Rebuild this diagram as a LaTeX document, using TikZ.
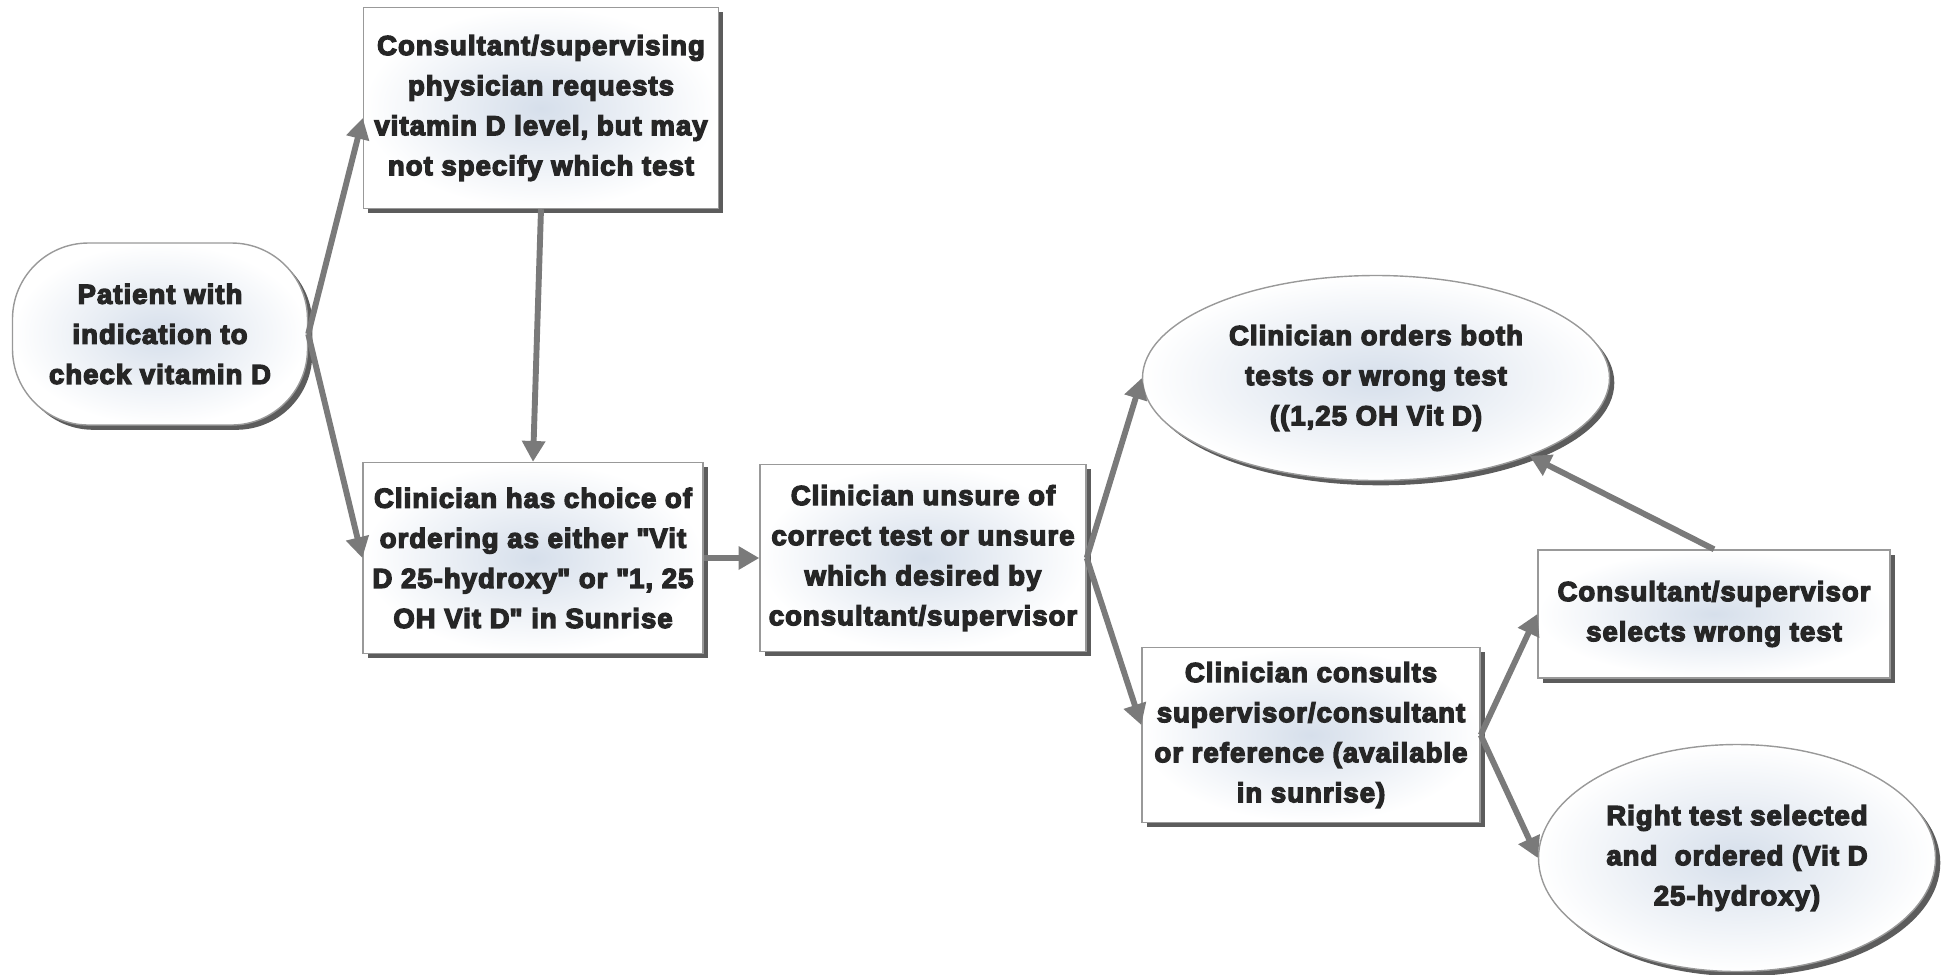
\documentclass[tikz,border=0pt]{standalone}
\usepackage{fontspec}
\setmainfont{Liberation Sans}[BoldFeatures={FakeBold=5, LetterSpace=4}]
\usetikzlibrary{arrows.meta,shapes.geometric,shadows}
\definecolor{boxmid}{RGB}{214,223,235}
\definecolor{txtgray}{RGB}{38,38,38}
\definecolor{arrgray}{RGB}{122,122,122}

\begin{document}
\begin{tikzpicture}[every node/.style={font=\fontsize{19.5}{28.5}\selectfont\bfseries, text=txtgray, align=center}, >={Triangle[length=5.2mm,width=5.6mm]}, nd/.style={draw=gray!80, line width=1pt, inner color=boxmid, outer color=white, inner sep=0pt, drop shadow={shadow xshift=1.2mm, shadow yshift=-1.2mm, fill=black!85, opacity=.75}}, box/.style={nd, rectangle}, oval/.style={nd, ellipse}, link/.style={->, draw=arrgray, line width=4.2pt}]
	\useasboundingbox (0,0) rectangle (48.675,-24.35);
	\node[box, rounded corners=1.9cm, minimum width=7.375cm, minimum height=4.55cm] (pat) at (4.0,-8.35) {Patient with\\ indication to\\ check vitamin D};
	\node[box, minimum width=8.875cm, minimum height=5.025cm] (req) at (13.525,-2.7) {Consultant/supervising\\ physician requests\\ vitamin D level, but may\\ not specify which test};
	\node[box, minimum width=8.5cm, minimum height=4.775cm] (choice) at (13.325,-13.95) {Clinician has choice of\\ ordering as either \textquotedbl Vit\\ D 25-hydroxy\textquotedbl{} or \textquotedbl 1, 25\\ OH Vit D\textquotedbl{} in Sunrise};
	\node[box, minimum width=8.15cm, minimum height=4.675cm] (unsure) at (23.075,-13.95) {Clinician unsure of\\ correct test or unsure\\ which desired by\\ consultant/supervisor};
	\node[oval, minimum width=11.675cm, minimum height=5.125cm] (both) at (34.4,-9.45) {Clinician orders both\\ tests or wrong test\\ ((1,25 OH Vit D)};
	\node[box, minimum width=8.45cm, minimum height=4.375cm] (ask) at (32.775,-18.375) {Clinician consults\\ supervisor/consultant\\ or reference (available\\ in sunrise)};
	\node[box, minimum width=8.8cm, minimum height=3.2cm] (wrong) at (42.85,-15.35) {Consultant/supervisor\\ selects wrong test};
	\node[oval, minimum width=9.925cm, minimum height=5.675cm] (right) at (43.425,-21.45) {Right test selected\\ and~ ordered (Vit D\\ 25-hydroxy)};
	\draw[link] (pat.east) -- ([yshift=-0.25cm]req.west);
	\draw[link] (pat.east) -- (choice.west);
	\draw[link] (req.south) -- (choice.north);
	\draw[link] (choice) -- (unsure);
	\draw[link] (unsure.east) -- (both.west);
	\draw[link] (unsure.east) -- ([yshift=0.25cm]ask.west);
	\draw[link] (ask.east) -- (wrong.west);
	\draw[link] (ask.east) -- (right.west);
	\draw[link] (wrong.north) -- (both);
\end{tikzpicture}
\end{document}
